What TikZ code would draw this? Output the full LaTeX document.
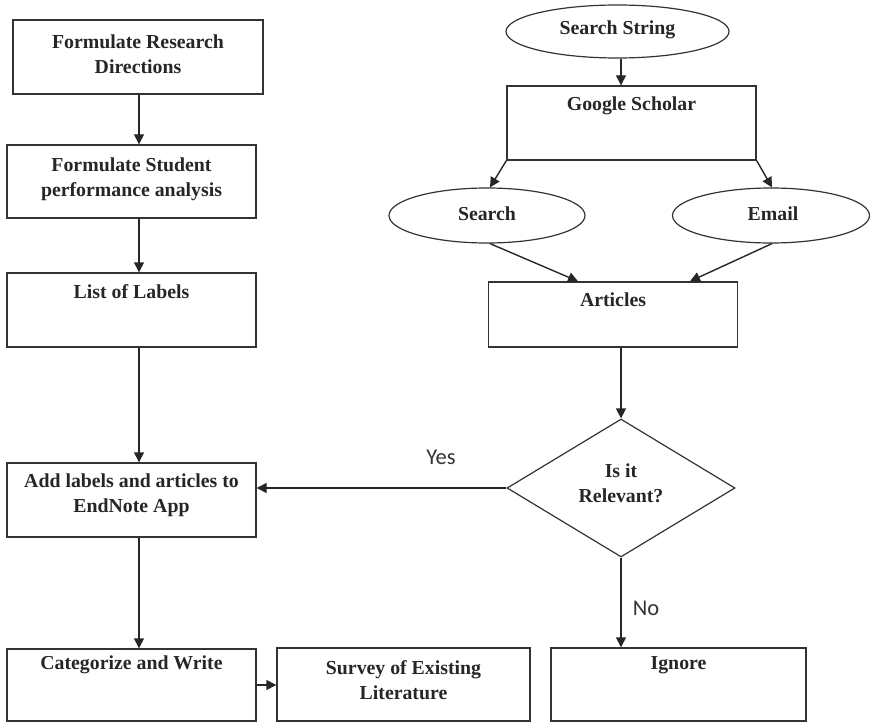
\documentclass[tikz,border=0pt]{standalone}
\usepackage{fontspec}
\setmainfont{Liberation Serif}
\newfontfamily\labelfont{Carlito}
\usetikzlibrary{shapes.geometric,arrows.meta,calc}

\begin{document}
\begin{tikzpicture}[x=1pt,y=-1pt,
  box/.style={draw=black!80, line width=1.4pt, rectangle, inner sep=0pt},
  oval/.style={draw=black!80, line width=1.2pt, ellipse, inner sep=0pt},
  decision/.style={draw=black!80, line width=1.2pt, diamond, inner sep=0pt},
  txt/.style={font=\fontsize{19.8}{25}\selectfont\bfseries, align=center, text=black!85, inner sep=0pt},
  flow/.style={draw=black!85, line width=1.4pt, -{Triangle[length=10pt,width=10pt]}},
  yn/.style={font=\labelfont\fontsize{22.5}{24}\selectfont, text=black!80, inner sep=0pt}]

\useasboundingbox (0,0) rectangle (870,722);

% left column of process boxes
\node[box, minimum width=250, minimum height=74] (b1) at (138,57) {};
\node[box, minimum width=249, minimum height=73] (b2) at (131.5,181.5) {};
\node[box, minimum width=249, minimum height=74] (b3) at (131.5,310) {};
\node[box, minimum width=249, minimum height=74] (b4) at (131.5,500) {};
\node[box, minimum width=249, minimum height=72] (b5) at (131.5,685) {};
\node[box, minimum width=253, minimum height=73] (b6) at (403.5,684.5) {};
\node[box, minimum width=255, minimum height=73] (ign) at (678.5,684.5) {};

% right column: search path
\node[oval, minimum width=223, minimum height=53] (str) at (617.5,31.5) {};
\node[box, minimum width=249, minimum height=74] (gs) at (631.5,123) {};
\node[oval, minimum width=196, minimum height=55] (srch) at (487,215.5) {};
\node[oval, minimum width=197, minimum height=55] (mail) at (771,215.5) {};
\node[box, minimum width=249, minimum height=65] (art) at (613,314.5) {};
\node[decision, minimum width=228, minimum height=138] (dia) at (621,488) {};

% box texts
\node[txt] (t1) at (138,54) {Formulate Research\\Directions};
\node[txt] (t2) at (131.5,179) {Formulate Student\\performance analysis};
\node[txt] (t3) at (131.5,292) {List of Labels};
\node[txt] (t4) at (131.5,495) {Add labels and articles to\\EndNote App};
\node[txt] (t5) at (131.5,665) {Categorize and Write};
\node[txt] (t6) at (403.5,680) {Survey of Existing\\Literature};
\node[txt] (t7) at (678.5,665) {Ignore};
\node[txt] (t8) at (617.5,30) {Search String};
\node[txt] (t9) at (631.5,106) {Google Scholar};
\node[txt] (t10) at (487,214) {Search};
\node[txt] (t11) at (773,214) {Email};
\node[txt] (t12) at (613,300) {Articles};
\node[txt] (t13) at (621,483) {Is it\\Relevant?};

% branch labels
\node[yn] (yes) at (441,457) {Yes};
\node[yn] (no) at (646,608) {No};

% connectors
\draw[flow] (b1.south -| 139,0) -- (b2.north -| 139,0);
\draw[flow] (b2.south -| 139,0) -- (b3.north -| 139,0);
\draw[flow] (b3.south -| 139,0) -- (b4.north -| 139,0);
\draw[flow] (b4.south -| 139,0) -- (b5.north -| 139,0);
\draw[flow] (b5.east) -- (b5.east -| b6.west);

\draw[flow] (str.south -| 621,0) -- (gs.north -| 621,0);
\draw[flow] (gs.south west) -- ([xshift=3pt]srch.north);
\draw[flow] (gs.south east) -- ([xshift=1pt]mail.north);
\draw[flow] ([xshift=3pt]srch.south) -- ([xshift=-35pt]art.north);
\draw[flow] ([xshift=1pt]mail.south) -- ([xshift=77pt]art.north);
\draw[flow] (art.south -| dia.north) -- (dia.north);
\draw[flow] (dia.west) -- (dia.west -| b4.east);
\draw[flow] (dia.south) -- (dia.south |- ign.north);
\end{tikzpicture}
\end{document}
